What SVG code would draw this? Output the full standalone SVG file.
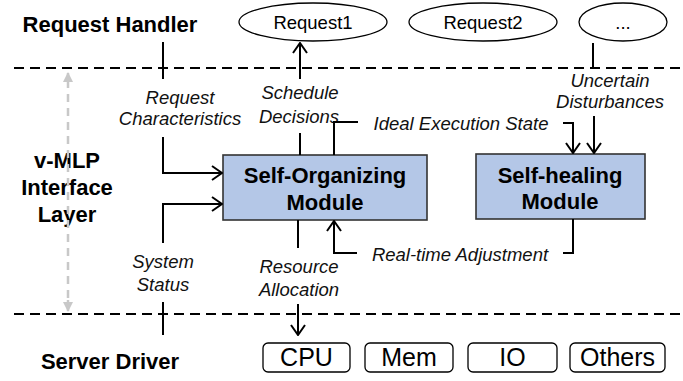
<svg xmlns="http://www.w3.org/2000/svg" width="683" height="381" viewBox="0 0 683 381">
<style>
.bold{font-family:"Liberation Sans",Arial,sans-serif;font-weight:bold;fill:#000}
.lbl{font-family:"Liberation Sans",Arial,sans-serif;font-style:italic;font-size:18.5px;fill:#111;text-anchor:middle}
.reg{font-family:"Liberation Sans",Arial,sans-serif;fill:#000;text-anchor:middle}
.dash{stroke:#000;stroke-width:2.2;stroke-dasharray:10 6;fill:none}
.ln{stroke:#000;stroke-width:2;fill:none}
.mod{fill:#b4c7e7;stroke:#333;stroke-width:1.6}
.ell{fill:#fff;stroke:#000;stroke-width:1.3}
.res{fill:#fff;stroke:#000;stroke-width:1.3}
</style>
<defs>
<marker id="a" viewBox="0 0 12 16" refX="11" refY="8" markerWidth="12" markerHeight="16" orient="auto" markerUnits="userSpaceOnUse">
<path d="M1,1 L11,8 L1,15" fill="none" stroke="#000" stroke-width="2"/>
</marker>
<marker id="g" viewBox="0 0 10 10" refX="9" refY="5" markerWidth="10" markerHeight="10" orient="auto" markerUnits="userSpaceOnUse">
<path d="M0,0 L10,5 L0,10 z" fill="#c8c8c8"/>
</marker>
</defs>
<rect width="683" height="381" fill="#fff"/>

<g id="layers">
<text class="bold" x="110" y="32" font-size="22" text-anchor="middle">Request Handler</text>
<text class="bold" x="110" y="369" font-size="22" text-anchor="middle">Server Driver</text>
<text class="bold" x="67" y="168" font-size="22" text-anchor="middle">v-MLP</text>
<text class="bold" x="67" y="195" font-size="22" text-anchor="middle">Interface</text>
<text class="bold" x="67" y="222" font-size="22" text-anchor="middle">Layer</text>
<line class="dash" x1="14" y1="68" x2="683" y2="68"/>
<line class="dash" x1="14" y1="314" x2="683" y2="314"/>
</g>

<g id="req1"><ellipse class="ell" cx="313" cy="22" rx="74" ry="19"/><text class="reg" x="313" y="29" font-size="18.5">Request1</text></g>
<g id="req2"><ellipse class="ell" cx="483" cy="22" rx="74" ry="19"/><text class="reg" x="483" y="29" font-size="18.5">Request2</text></g>
<g id="req3"><ellipse class="ell" cx="623" cy="22" rx="44" ry="19"/><text class="reg" x="623" y="29" font-size="18.5">...</text></g>

<g id="selforg"><rect class="mod" x="223" y="155" width="204" height="65"/>
<text class="bold" x="325" y="183" font-size="22" text-anchor="middle">Self-Organizing</text>
<text class="bold" x="325" y="210" font-size="22" text-anchor="middle">Module</text></g>

<g id="selfheal"><rect class="mod" x="476" y="154" width="169" height="65"/>
<text class="bold" x="560" y="183" font-size="22" text-anchor="middle">Self-healing</text>
<text class="bold" x="560" y="209" font-size="22" text-anchor="middle">Module</text></g>

<g id="cpu"><rect class="res" x="263" y="343" width="87" height="29" rx="5"/><text class="reg" x="306.5" y="366" font-size="25">CPU</text></g>
<g id="mem"><rect class="res" x="365" y="343" width="88" height="29" rx="5"/><text class="reg" x="409" y="366" font-size="25">Mem</text></g>
<g id="io"><rect class="res" x="468" y="343" width="89" height="29" rx="5"/><text class="reg" x="512.5" y="366" font-size="25">IO</text></g>
<g id="others"><rect class="res" x="570" y="343" width="95" height="29" rx="5"/><text class="reg" x="617.5" y="366" font-size="25">Others</text></g>

<g id="labels">
<text class="lbl" x="180" y="104">Request</text>
<text class="lbl" x="180" y="125">Characteristics</text>
<text class="lbl" x="300" y="99">Schedule</text>
<text class="lbl" x="299" y="123">Decisions</text>
<text class="lbl" x="461" y="130">Ideal Execution State</text>
<text class="lbl" x="610" y="87">Uncertain</text>
<text class="lbl" x="610" y="108">Disturbances</text>
<text class="lbl" x="163" y="268">System</text>
<text class="lbl" x="163" y="291">Status</text>
<text class="lbl" x="299" y="273">Resource</text>
<text class="lbl" x="299" y="296">Allocation</text>
<text class="lbl" x="460" y="261">Real-time Adjustment</text>
</g>

<g id="connectors">
<line x1="68" y1="80" x2="68" y2="73" stroke="#c8c8c8" stroke-width="2.5" marker-end="url(#g)"/>
<line x1="68" y1="80" x2="68" y2="302" stroke="#c8c8c8" stroke-width="2.5" stroke-dasharray="8 6"/>
<line x1="68" y1="300" x2="68" y2="311" stroke="#c8c8c8" stroke-width="2.5" marker-end="url(#g)"/>
<line class="ln" x1="163" y1="42" x2="163" y2="79"/>
<path class="ln" d="M163,137 V173 H222" marker-end="url(#a)"/>
<path class="ln" d="M163,243 V204 H222" marker-end="url(#a)"/>
<line class="ln" x1="163" y1="302" x2="163" y2="335"/>
<line class="ln" x1="300" y1="79" x2="300" y2="43" marker-end="url(#a)"/>
<line class="ln" x1="300" y1="133" x2="300" y2="155"/>
<line class="ln" x1="298" y1="220" x2="298" y2="248"/>
<line class="ln" x1="298" y1="304" x2="298" y2="335" marker-end="url(#a)"/>
<path class="ln" d="M334,155 V122 H358"/>
<path class="ln" d="M563,123 H573 V153" marker-end="url(#a)"/>
<line class="ln" x1="593" y1="43" x2="593" y2="67"/>
<line class="ln" x1="594" y1="116" x2="594" y2="153" marker-end="url(#a)"/>
<path class="ln" d="M573,219 V253 H563"/>
<path class="ln" d="M357,253 H334 V221" marker-end="url(#a)"/>
</g>
</svg>
